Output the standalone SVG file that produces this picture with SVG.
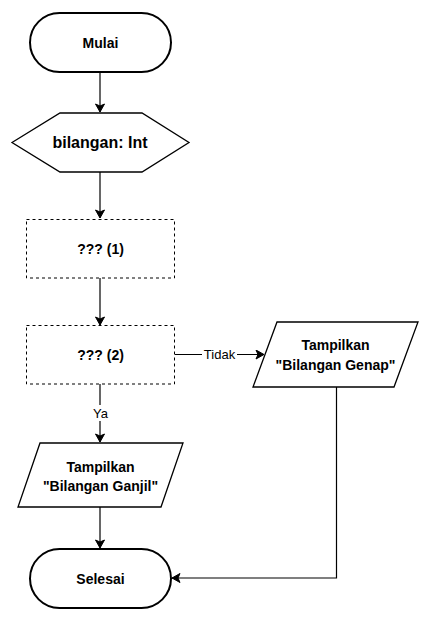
<svg xmlns="http://www.w3.org/2000/svg" width="431" height="620" viewBox="0 0 431 620">
<style>
.s{fill:#fff;stroke:#000;stroke-width:1.3}
.t{fill:#fff;stroke:#000;stroke-width:2}
.d{fill:#fff;stroke:#000;stroke-width:1;stroke-dasharray:3 3}
.c{fill:none;stroke:#000;stroke-width:1.2}
text{font-family:"Liberation Sans",Arial,sans-serif;font-size:14px;text-anchor:middle;fill:#000}
.b{font-weight:bold}
.l{font-size:13px}
</style>
<defs>
<marker id="a" markerWidth="10" markerHeight="10" viewBox="0 0 10 10" refX="9" refY="5" orient="auto" markerUnits="userSpaceOnUse">
<path d="M1,0.5 L9,5 L1,9.5 L3,5 Z" fill="#000" stroke="#000" stroke-width="1"/>
</marker>
</defs>
<g id="connectors">
<line class="c" x1="100" y1="72" x2="100" y2="112" marker-end="url(#a)"/>
<line class="c" x1="100" y1="172" x2="100" y2="218" marker-end="url(#a)"/>
<line class="c" x1="100" y1="278" x2="100" y2="325" marker-end="url(#a)"/>
<line class="c" x1="175" y1="354.5" x2="264" y2="354.5" marker-end="url(#a)"/>
<line class="c" x1="100" y1="384" x2="100" y2="442" marker-end="url(#a)"/>
<line class="c" x1="100" y1="507" x2="100" y2="548" marker-end="url(#a)"/>
<polyline class="c" points="336.5,387 336.5,578 172,578" marker-end="url(#a)"/>
<rect x="202" y="346" width="35" height="16" fill="#fff"/>
<text class="l" x="219.5" y="359">Tidak</text>
<rect x="91" y="405" width="19" height="16" fill="#fff"/>
<text class="l" x="100.5" y="418">Ya</text>
</g>
<g id="mulai">
<rect class="t" x="30" y="13" width="141" height="59" rx="29.5" ry="29.5"/>
<text class="b" x="100.5" y="47.5">Mulai</text>
</g>
<g id="input">
<polygon class="s" points="12,142.5 60,113 142,113 189,142.5 142,172 60,172"/>
<text class="b" x="100" y="148" style="font-size:16px">bilangan: Int</text>
</g>
<g id="proses1">
<rect class="d" x="26.5" y="219.5" width="148" height="58.5"/>
<text class="b" x="100.5" y="253.5">??? (1)</text>
</g>
<g id="proses2">
<rect class="d" x="26.5" y="325.5" width="148" height="58.5"/>
<text class="b" x="100.5" y="359.5">??? (2)</text>
</g>
<g id="genap">
<polygon class="s" points="277,322 418,322 394,387 253,387"/>
<text class="b" x="335.5" y="350">Tampilkan</text>
<text class="b" x="335.5" y="370">"Bilangan Genap"</text>
</g>
<g id="ganjil">
<polygon class="s" points="40,443 183,443 161,507 18,507"/>
<text class="b" x="100.5" y="472">Tampilkan</text>
<text class="b" x="100.5" y="491">"Bilangan Ganjil"</text>
</g>
<g id="selesai">
<rect class="t" x="30" y="549" width="141" height="59" rx="29.5" ry="29.5"/>
<text class="b" x="100.5" y="583.5">Selesai</text>
</g>
</svg>
